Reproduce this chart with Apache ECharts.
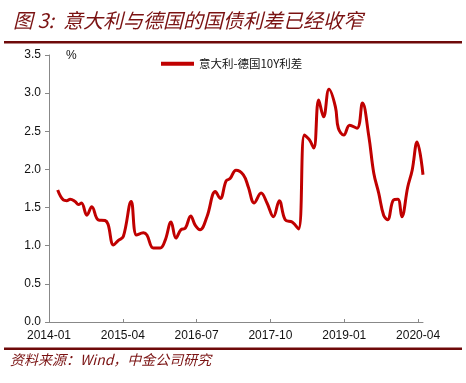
<!DOCTYPE html>
<html><head><meta charset="utf-8">
<script src="https://cdn.jsdelivr.net/npm/echarts@6/dist/echarts.min.js"></script>
<style>html,body{margin:0;padding:0;background:#fff}#c{width:466px;height:383px}</style>
</head><body><div id="c"></div>
<script>
const seriesName = '意大利-德国10Y利差';
const xTickLabels = ['2014-01','2015-04','2016-07','2017-10','2019-01','2020-04'];
const yTickLabels = ['0.0','0.5','1.0','1.5','2.0','2.5','3.0','3.5'];
const dates = ['2014-02-24','2014-03-28','2014-04-19','2014-05-10','2014-06-10','2014-07-01','2014-07-19','2014-08-22','2014-09-22','2014-11-01','2014-12-13','2015-01-01','2015-02-04','2015-03-04','2015-04-04','2015-05-22','2015-06-25','2015-08-07','2015-08-28','2015-10-07','2015-11-19','2015-12-19','2016-01-25','2016-02-25','2016-03-25','2016-04-22','2016-05-25','2016-06-22','2016-07-22','2016-09-04','2016-10-25','2016-11-25','2017-01-01','2017-01-25','2017-03-01','2017-04-16','2017-05-16','2017-06-22','2017-08-04','2017-09-10','2017-10-19','2017-11-25','2018-01-01','2018-02-13','2018-03-22','2018-04-28','2018-05-28','2018-06-25','2018-07-25','2018-08-25','2018-09-28','2018-11-07','2018-11-25','2018-12-28','2019-02-04','2019-03-19','2019-04-22','2019-06-01','2019-07-01','2019-08-01','2019-09-01','2019-09-25','2019-11-01','2019-11-28','2019-12-22','2020-01-28','2020-02-25','2020-03-25','2020-05-01'];
const spread = [1.73,1.60,1.59,1.61,1.58,1.54,1.56,1.40,1.51,1.34,1.33,1.28,1.01,1.07,1.12,1.58,1.14,1.17,1.14,0.97,0.97,1.07,1.31,1.10,1.21,1.23,1.39,1.27,1.21,1.38,1.71,1.62,1.85,1.88,1.99,1.93,1.77,1.56,1.69,1.56,1.38,1.59,1.34,1.31,1.22,2.45,2.39,2.28,2.91,2.69,3.05,2.82,2.54,2.45,2.58,2.54,2.87,2.43,1.95,1.69,1.40,1.34,1.60,1.61,1.38,1.77,1.99,2.36,1.93];

function monthIndex(s){const p=s.split('-').map(Number);return (p[0]-2014)*12+(p[1]-1)+(p[2]-1)/30;}
function monthLabel(v){const y=2014+Math.floor(v/12);const m=v%12+1;return y+'-'+(m<10?'0':'')+m;}
const data = dates.map((d,i)=>[monthIndex(d),spread[i]]);
const darkRed='#6e0a0a';
const chart = echarts.init(document.getElementById('c'),null,{renderer:'canvas'});
chart.setOption({
  animation:false,
  grid:{left:49,right:43,top:55,bottom:61},
  title:{text:'图 3:  意大利与德国的国债利差已经收窄',left:8,top:5,textStyle:{fontFamily:'Noto Sans CJK SC',fontStyle:'italic',fontWeight:'normal',fontSize:20,color:'#7a1212'}},
  legend:{top:53,left:156,itemWidth:33,itemHeight:4,icon:'rect',itemGap:4,textStyle:{fontFamily:'Noto Sans CJK SC',fontSize:11.5,color:'#111'},data:[seriesName]},
  graphic:[
    {type:'rect',shape:{x:4,y:41,width:458,height:2.5},style:{fill:darkRed}},
    {type:'rect',shape:{x:4,y:347.5,width:458,height:2.5},style:{fill:darkRed}},
    {type:'text',left:10,top:353,style:{text:'资料来源：Wind，中金公司研究',font:'italic 14px "Noto Sans CJK SC"',fill:'#7a1212'}},
    {type:'text',left:66,top:50,style:{text:'%',font:'12px "Liberation Sans"',fill:'#111'}}
  ],
  xAxis:{type:'value',min:0,max:76,interval:15,
    axisLine:{lineStyle:{color:'#888',width:1}},
    axisTick:{inside:true,length:3,lineStyle:{color:'#888'}},
    splitLine:{show:false},
    axisLabel:{showMaxLabel:false,margin:8,fontFamily:'Liberation Sans',fontSize:12,color:'#111',formatter:v=>{const i=v/15;return Number.isInteger(i)&&xTickLabels[i]?xTickLabels[i]:'';}}},
  yAxis:{type:'value',min:0,max:3.5,interval:0.5,
    axisLine:{show:true,lineStyle:{color:'#888',width:1}},
    axisTick:{show:true,length:4,lineStyle:{color:'#888'}},
    splitLine:{show:false},
    axisLabel:{margin:8,fontFamily:'Liberation Sans',fontSize:12,color:'#111',formatter:v=>yTickLabels[Math.round(v/0.5)]}},
  series:[{name:seriesName,type:'line',data:data,smooth:0.4,showSymbol:false,symbol:'none',
    lineStyle:{color:'#c00000',width:3},itemStyle:{color:'#c00000'}}]
});
</script></body></html>
